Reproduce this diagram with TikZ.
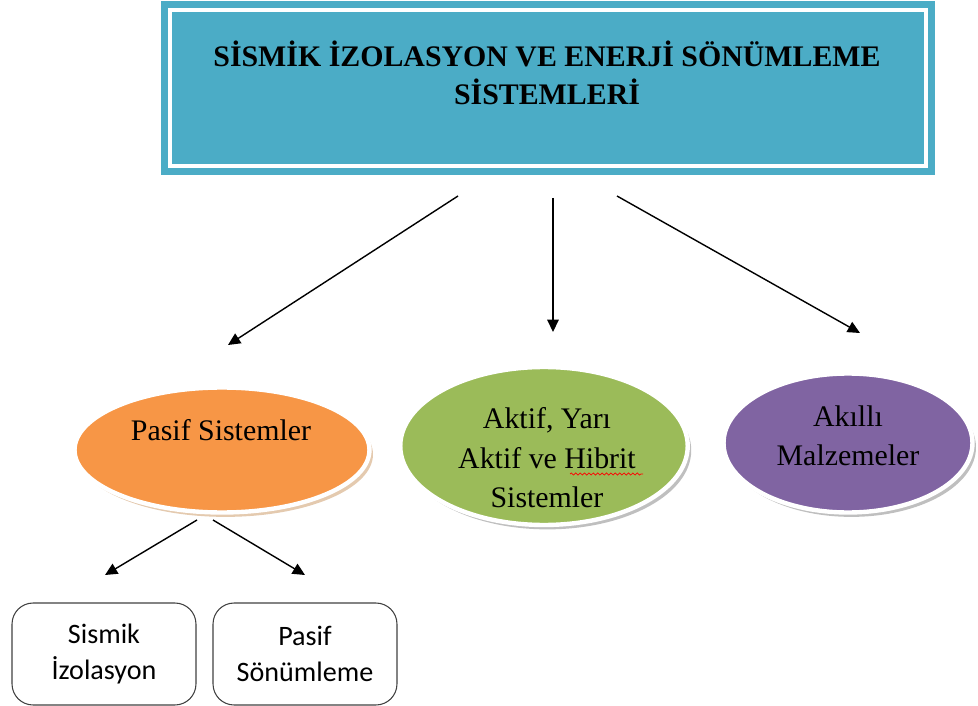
\documentclass[tikz,border=0pt]{standalone}
\usepackage{fontspec}
\setmainfont{Liberation Serif}
\newfontfamily\boxfont{Carlito}
\usetikzlibrary{arrows.meta,shapes.geometric,shadows,decorations.pathmorphing}
\definecolor{titleblue}{HTML}{4BACC6}
\definecolor{pasiforange}{HTML}{F79646}
\definecolor{aktifgreen}{HTML}{9BBB59}
\definecolor{akilliviolet}{HTML}{8064A2}
\begin{document}
\begin{tikzpicture}[x=0.02cm, y=-0.02cm,
  arr/.style={-{Triangle[length=7pt,width=6.5pt]}, line width=0.8pt},
  oval/.style={ellipse, fill=#1, draw=white, line width=2.5pt, inner sep=0pt},
  ovaltext/.style={align=center, font=\fontsize{17}{22.5}\selectfont},
  sub/.style={draw=black!75, line width=0.6pt, rounded corners=12pt, minimum width=3.68cm, minimum height=2.04cm, align=center, font=\boxfont\fontsize{16}{20.5}\selectfont}]
  \useasboundingbox (0,0) rectangle (978,706);
  % title box
  \node[fill=titleblue, draw=white, line width=1.8pt, minimum width=15.12cm, minimum height=3.12cm,
    preaction={draw=titleblue, line width=0.38cm}] (title) at (548,88) {};
  \node[align=center, font=\bfseries\fontsize{17}{21.5}\selectfont] (titletext) at (547,73)
    {SİSMİK İZOLASYON VE ENERJİ SÖNÜMLEME\\SİSTEMLERİ};
  % three groups
  \node[oval=pasiforange, minimum width=5.9cm, minimum height=2.5cm,
    drop shadow={shadow xshift=2pt, shadow yshift=-2.5pt, fill=brown!70, opacity=.6}] (pasif) at (222,450) {};
  \node[ovaltext] (pasiftext) at (221,430) {Pasif Sistemler};
  \node[oval=aktifgreen, minimum width=5.75cm, minimum height=3.16cm,
    drop shadow={shadow xshift=2pt, shadow yshift=-2.5pt, fill=gray, opacity=.5}] (aktif) at (544,446) {};
  \node[ovaltext] (aktiftext) at (547,458) {Aktif, Yarı\\Aktif ve Hibrit\\Sistemler};
  \node[oval=akilliviolet, minimum width=4.98cm, minimum height=2.78cm,
    drop shadow={shadow xshift=2pt, shadow yshift=-2.5pt, fill=gray, opacity=.5}] (akilli) at (848,443) {};
  \node[ovaltext] (akillitext) at (848,436) {Akıllı\\Malzemeler};
  \draw[red, line width=0.4pt, decorate, decoration={snake, amplitude=0.6pt, segment length=2.5pt}] (570,474) -- (643,474);
  % sub boxes
  \node[sub] (izolasyon) at (104,654) {Sismik\\İzolasyon};
  \node[sub] (sonumleme) at (305,654) {Pasif\\Sönümleme};
  % arrows
  \coordinate (t1) at (458,196); \coordinate (p1) at (228,345);
  \coordinate (t2) at (553,198); \coordinate (a1) at (553,332);
  \coordinate (t3) at (617,196); \coordinate (m1) at (860,333);
  \coordinate (s1) at (197,520); \coordinate (i1) at (105,575);
  \coordinate (s2) at (213,520); \coordinate (o1) at (305,575);
  \draw[arr] (t1) -- (p1);
  \draw[arr] (t2) -- (a1);
  \draw[arr] (t3) -- (m1);
  \draw[arr] (s1) -- (i1);
  \draw[arr] (s2) -- (o1);
\end{tikzpicture}
\end{document}
